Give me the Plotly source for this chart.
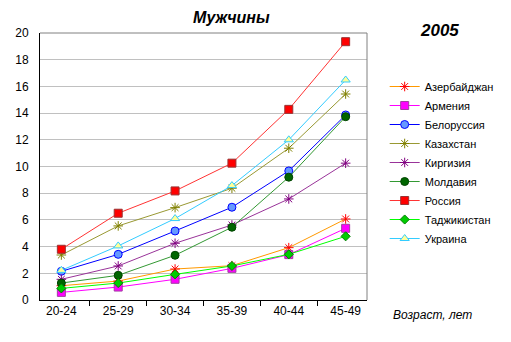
import plotly.graph_objects as go

# Age groups and rates per country (men, 2005)
age_groups = ["20-24", "25-29", "30-34", "35-39", "40-44", "45-49"]

azerbaijan = [1.07, 1.42, 2.32, 2.57, 3.92, 6.07]
armenia = [0.57, 0.97, 1.55, 2.37, 3.40, 5.37]
belarus = [2.15, 3.42, 5.17, 6.95, 9.67, 13.86]
kazakhstan = [3.37, 5.55, 6.92, 8.37, 11.37, 15.43]
kyrgyzstan = [1.55, 2.55, 4.25, 5.62, 7.57, 10.25]
moldova = [1.27, 1.85, 3.35, 5.45, 9.20, 13.73]
russia = [3.80, 6.50, 8.17, 10.25, 14.28, 19.35]
tajikistan = [0.87, 1.27, 1.92, 2.55, 3.42, 4.77]
ukraine = [2.22, 4.05, 6.10, 8.57, 12.00, 16.48]

y_ticks = [0, 2, 4, 6, 8, 10, 12, 14, 16, 18, 20]

W, H = 511, 342
L, R, T, B = 40, 373, 33, 300  # plot area in pixels

series = [
    ("Азербайджан", azerbaijan, "#FF9900", dict(symbol="asterisk-open", size=8, color="#FF0000", line=dict(color="#FF0000", width=1))),
    ("Армения", armenia, "#FF00FF", dict(symbol="square", size=8, color="#FF00FF", line=dict(color="#A040A0", width=1))),
    ("Белоруссия", belarus, "#0000FF", dict(symbol="circle", size=8, color="#6699FF", line=dict(color="#0000FF", width=1))),
    ("Казахстан", kazakhstan, "#999933", dict(symbol="asterisk-open", size=8, color="#808000", line=dict(color="#808000", width=1))),
    ("Киргизия", kyrgyzstan, "#993399", dict(symbol="asterisk-open", size=8, color="#800080", line=dict(color="#800080", width=1))),
    ("Молдавия", moldova, "#339933", dict(symbol="circle", size=8, color="#006600", line=dict(color="#004400", width=1))),
    ("Россия", russia, "#FF3333", dict(symbol="square", size=8, color="#FF0000", line=dict(color="#993333", width=1))),
    ("Таджикистан", tajikistan, "#00FF00", dict(symbol="diamond", size=7, color="#00CC00", line=dict(color="#008000", width=1))),
    ("Украина", ukraine, "#33CCFF", dict(symbol="triangle-up", size=8, color="#FFFF99", line=dict(color="#33CCFF", width=1))),
]

fig = go.Figure()
for name, vals, lc, mk in series:
    fig.add_trace(go.Scatter(
        x=age_groups, y=vals, name=name, mode="lines+markers",
        line=dict(color=lc, width=1), marker=mk,
    ))


def px_x(x):
    return (x - L) / (R - L)


def px_y(y):
    return (B - y) / (B - T)


font = dict(family="Arial, Liberation Sans, sans-serif", color="#000000")

fig.update_layout(
    width=W, height=H,
    margin=dict(l=L, r=W - R, t=T, b=H - B, pad=0),
    paper_bgcolor="white", plot_bgcolor="white",
    font=dict(size=12, **font),
    showlegend=True,
    legend=dict(
        x=px_x(391), y=px_y(72), xanchor="left", yanchor="top",
        font=dict(size=11, **font), bgcolor="rgba(0,0,0,0)",
        tracegroupgap=0, itemwidth=30,
    ),
    xaxis=dict(
        type="category", showgrid=False, showline=True, linecolor="#000000", linewidth=1,
        ticks="outside", tickson="boundaries", ticklen=5, tickcolor="#000000",
        tickfont=dict(size=12, **font), zeroline=False,
    ),
    yaxis=dict(
        range=[0, 20], tickvals=y_ticks, showgrid=True, gridcolor="#C0C0C0", gridwidth=1,
        showline=True, linecolor="#000000", linewidth=1, ticks="", ticklabelstandoff=8,
        tickfont=dict(size=12, **font), zeroline=False,
    ),
    shapes=[
        dict(type="line", xref="paper", yref="paper", x0=0, x1=1, y0=1, y1=1,
             line=dict(color="#808080", width=1)),
        dict(type="line", xref="paper", yref="paper", x0=1, x1=1, y0=0, y1=1,
             line=dict(color="#808080", width=1)),
    ],
    annotations=[
        dict(text="Мужчины", xref="paper", yref="paper", x=px_x(235), y=px_y(17),
             xanchor="center", yanchor="middle", showarrow=False,
             font=dict(size=16, weight="bold", style="italic", **font)),
        dict(text="2005", xref="paper", yref="paper", x=px_x(447), y=px_y(31),
             xanchor="center", yanchor="middle", showarrow=False,
             font=dict(size=17, weight="bold", style="italic", **font)),
        dict(text="Возраст, лет", xref="paper", yref="paper", x=px_x(440), y=px_y(315),
             xanchor="center", yanchor="middle", showarrow=False,
             font=dict(size=12, style="italic", **font)),
    ],
)

fig.write_html("out.html")
